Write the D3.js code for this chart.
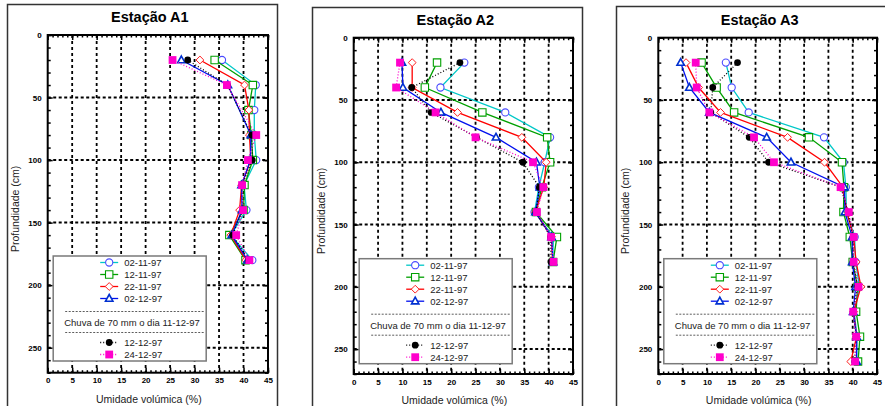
<!DOCTYPE html>
<html>
<head>
<meta charset="utf-8">
<script src="https://cdn.jsdelivr.net/npm/d3@7"></script>
<style>
body { margin: 0; background: #fff; }
text { font-family: "Liberation Sans", Arial, sans-serif; }
</style>
</head>
<body>
<script>
// series names, in drawing order
var seriesLabels = ["02-11-97", "12-11-97", "22-11-97", "02-12-97", "12-12-97", "24-12-97"];
var rainNote = "Chuva de 70 mm o dia 11-12-97";

// depths (cm)
var depthsA12 = [20, 40, 60, 80, 100, 120, 140, 160, 180];
var depthsA3 = [20, 40, 60, 80, 100, 120, 140, 160, 180, 200, 220, 240, 260];

// Estação A1 - umidade volúmica (%)
var a1_021197 = [35.6, 42.5, 42.2, 42.2, 42.6, 40.1, 40.6, 37.4, 41.8];
var a1_121197 = [34.1, 41.9, 41.0, 41.6, 41.9, 40.2, 40.0, 37.1, 40.4];
var a1_221197 = [31.1, 40.2, 41.1, 41.2, 41.5, 39.6, 39.2, 37.4, 40.5];
var a1_021297 = [27.3, 36.8, null, 41.5, 41.4, 39.6, 39.7, 37.6, 40.8];
var a1_121297 = [28.6, 36.7, null, 41.7, 41.8, 39.7, 39.8, 37.8, 41.0];
var a1_241297 = [25.5, 36.6, null, 42.6, 40.9, 39.7, 39.9, 38.5, 41.2];

// Estação A2
var a2_021197 = [22.7, 17.8, 31.1, 40.3, 39.2, 38.0, 37.1, 41.0, 40.8];
var a2_121197 = [17.1, 14.6, 26.4, 39.7, 40.3, 38.6, 37.4, 41.7, 40.9];
var a2_221197 = [12.0, 12.0, 21.3, 34.5, 39.5, 39.0, 37.3, 40.6, 40.8];
var a2_021297 = [9.9, 10.1, 17.9, 29.2, 37.5, 38.2, 37.3, 40.6, 40.9];
var a2_121297 = [21.8, 11.9, 15.9, 25.2, 34.7, 38.1, 37.4, 40.4, 40.5];
var a2_241297 = [9.5, 8.7, 16.8, 25.0, 36.8, 38.9, 37.6, 40.5, 41.0];

// Estação A3
var a3_021197 = [13.9, 15.1, 18.6, 34.1, 38.1, 38.6, 38.7, 40.4, 40.6, 41.4, 40.3, 40.9, 40.8];
var a3_121197 = [8.9, 12.0, 15.6, 31.0, 37.8, 38.2, 38.1, 39.4, 40.0, 41.0, 40.7, 41.5, 41.1];
var a3_221197 = [5.7, 8.3, 12.8, 26.6, 34.2, 38.0, 38.8, 40.2, 40.7, 41.7, 40.2, 40.8, 39.6];
var a3_021297 = [4.6, 6.4, 10.5, 22.3, 27.3, 38.3, 38.4, 39.9, 39.9, 40.6, 40.1, 40.8, 40.8];
var a3_121297 = [16.3, 11.2, 10.8, 18.7, 22.7, 37.6, 39.0, 40.1, 40.1, 41.0, 40.1, 40.7, 40.4];
var a3_241297 = [7.7, 7.9, 10.5, 19.7, 23.8, 37.5, 39.2, 40.2, 40.2, 41.2, 40.1, 40.7, 40.5];

var xTicks = [0, 5, 10, 15, 20, 25, 30, 35, 40, 45];
var yTicks = [0, 50, 100, 150, 200, 250];

var styles = [
  {line: "#00c8c8", stroke: "#4a4aff", fill: "#fff", shape: "circle", dash: null, sw: 1.1},
  {line: "#00a000", stroke: "#00a000", fill: "#fff", shape: "square", dash: null, sw: 1.1},
  {line: "#ff0000", stroke: "#ff2020", fill: "#fff", shape: "diamond", dash: null, sw: 1},
  {line: "#0010ee", stroke: "#0030d0", fill: "#fff", shape: "triangle", dash: null, sw: 1.6},
  {line: "#000", stroke: "#000", fill: "#000", shape: "dot", dash: "1,2", sw: 0},
  {line: "#ff00cc", stroke: "#ff00cc", fill: "#ff00cc", shape: "block", dash: "1,2", sw: 0}
];

var shapes = {
  circle: "M3.6,0A3.6,3.6,0,1,1,-3.6,0A3.6,3.6,0,1,1,3.6,0Z",
  square: "M-3.7,-3.7h7.4v7.4h-7.4Z",
  diamond: "M0,-3.9L3.9,0L0,3.9L-3.9,0Z",
  triangle: "M0,-4L3.7,2.7L-3.7,2.7Z",
  dot: "M3.4,0A3.4,3.4,0,1,1,-3.4,0A3.4,3.4,0,1,1,3.4,0Z",
  block: "M-3.9,-3.9h7.8v7.8h-7.8Z"
};

var panels = [
  {title: "Estação A1", left: 47.7, right: 268, top: 35, bottom: 372.7, frame: [7.5, 4.5, 270],
   depths: depthsA12, values: [a1_021197, a1_121197, a1_221197, a1_021297, a1_121297, a1_241297]},
  {title: "Estação A2", left: 353.7, right: 573, top: 37.7, bottom: 374, frame: [312.5, 7.5, 270],
   depths: depthsA12, values: [a2_021197, a2_121197, a2_221197, a2_021297, a2_121297, a2_241297]},
  {title: "Estação A3", left: 658.3, right: 877, top: 37.7, bottom: 374, frame: [616.5, 6.5, 300],
   depths: depthsA3, values: [a3_021197, a3_121197, a3_221197, a3_021297, a3_121297, a3_241297]}
];

var svg = d3.select("body").append("svg")
  .attr("width", 885).attr("height", 406);

panels.forEach(function(p) {
  var x = d3.scaleLinear().domain([0, 45]).range([p.left, p.right]);
  var y = d3.scaleLinear().domain([0, 270]).range([p.top, p.bottom]);
  var w = p.right - p.left, h = p.bottom - p.top;
  var cx = (p.left + p.right) / 2;

  // outer frame
  svg.append("rect")
    .attr("x", p.frame[0]).attr("y", p.frame[1])
    .attr("width", p.frame[2]).attr("height", 430)
    .attr("fill", "none").attr("stroke", "#333").attr("stroke-width", 1.5);

  svg.append("text")
    .attr("x", cx - 8).attr("y", p.top - 13)
    .attr("text-anchor", "middle")
    .style("font-size", "14.5px").style("font-weight", "bold")
    .text(p.title);

  // grid
  svg.append("g").selectAll("line").data(xTicks.slice(1, -1)).enter().append("line")
    .attr("x1", function(d) { return x(d); }).attr("x2", function(d) { return x(d); })
    .attr("y1", p.top).attr("y2", p.bottom)
    .attr("stroke", "#000").attr("stroke-width", 1.8).attr("stroke-dasharray", "3,3");
  svg.append("g").selectAll("line").data(yTicks.slice(1)).enter().append("line")
    .attr("y1", function(d) { return y(d); }).attr("y2", function(d) { return y(d); })
    .attr("x1", p.left).attr("x2", p.right)
    .attr("stroke", "#000").attr("stroke-width", 2).attr("stroke-dasharray", "3,2.5");

  // ticks on all four sides
  function ticks(axis, tx, ty) {
    var g = svg.append("g").attr("transform", "translate(" + tx + "," + ty + ")").call(axis);
    g.select(".domain").remove();
    g.selectAll(".tick line").attr("stroke", "#000").attr("stroke-width", 1.5);
    return g;
  }
  var minorX = d3.range(0, 46, 1), minorY = d3.range(0, 271, 10);
  ticks(d3.axisBottom(x).tickValues(minorX).tickSize(-2.5).tickFormat(""), 0, p.bottom);
  ticks(d3.axisTop(x).tickValues(minorX).tickSize(-2.5).tickFormat(""), 0, p.top);
  ticks(d3.axisLeft(y).tickValues(minorY).tickSize(-3).tickFormat(""), p.left, 0);
  ticks(d3.axisRight(y).tickValues(minorY).tickSize(-3).tickFormat(""), p.right, 0);
  ticks(d3.axisTop(x).tickValues(xTicks).tickSize(-5).tickFormat(""), 0, p.top);
  ticks(d3.axisRight(y).tickValues(yTicks).tickSize(-5).tickFormat(""), p.right, 0);

  var gx = ticks(d3.axisBottom(x).tickValues(xTicks).tickSize(-5).tickPadding(5), 0, p.bottom);
  var gy = ticks(d3.axisLeft(y).tickValues(yTicks).tickSize(-5).tickPadding(6), p.left, 0);
  [gx, gy].forEach(function(g) {
    g.attr("font-family", null).attr("font-size", null);
    g.selectAll("text").style("font-size", "8px").style("font-weight", "bold").attr("fill", "#000");
  });

  // border
  svg.append("rect")
    .attr("x", p.left).attr("y", p.top).attr("width", w).attr("height", h)
    .attr("fill", "none").attr("stroke", "#000").attr("stroke-width", 2);

  // axis titles
  svg.append("text")
    .attr("x", cx - 9).attr("y", p.bottom + 30)
    .attr("text-anchor", "middle").style("font-size", "10.5px").attr("fill", "#222")
    .text("Umidade volúmica (%)");
  svg.append("text")
    .attr("transform", "translate(" + (p.left - 29) + "," + ((p.top + p.bottom) / 2 + 5) + ") rotate(-90)")
    .attr("text-anchor", "middle").style("font-size", "10.5px").attr("fill", "#222")
    .text("Profundidade (cm)");

  // legend
  var lx = p.left + 5.5, ly = p.top + 221;
  var leg = svg.append("g").attr("transform", "translate(" + lx + "," + ly + ")");
  leg.append("rect").attr("width", 153).attr("height", 105)
    .attr("fill", "#fff").attr("stroke", "#7a7a7a").attr("stroke-width", 1.5);
  var rowY = [6.5, 18.5, 30.5, 42.5, 86.5, 98.5];
  seriesLabels.forEach(function(lab, i) {
    var s = styles[i];
    leg.append("line").attr("x1", 47).attr("x2", 65).attr("y1", rowY[i]).attr("y2", rowY[i])
      .attr("stroke", s.line).attr("stroke-width", 1.3)
      .attr("stroke-dasharray", s.dash);
    leg.append("path").attr("d", shapes[s.shape])
      .attr("transform", "translate(56," + rowY[i] + ")")
      .attr("fill", s.fill).attr("stroke", s.stroke).attr("stroke-width", s.sw);
    leg.append("text").attr("x", 71).attr("y", rowY[i]).attr("dy", "0.35em")
      .style("font-size", "9.5px").attr("fill", "#222").text(lab);
  });
  [55.5, 76.5].forEach(function(yy) {
    leg.append("line").attr("x1", 12).attr("x2", 152).attr("y1", yy).attr("y2", yy)
      .attr("stroke", "#333").attr("stroke-width", 0.8).attr("stroke-dasharray", "2,1.5");
  });
  leg.append("text").attr("x", 11).attr("y", 66.5).attr("dy", "0.35em")
    .style("font-size", "9.5px").attr("fill", "#222").text(rainNote);

  // series
  var line = d3.line().x(function(d) { return x(d.v); }).y(function(d) { return y(d.d); });
  p.values.forEach(function(vals, i) {
    var s = styles[i];
    var pts = p.depths.map(function(d, j) { return {d: d, v: vals[j]}; })
      .filter(function(q) { return q.v != null; });
    var g = svg.append("g");
    g.append("path").datum(pts).attr("d", line)
      .attr("fill", "none").attr("stroke", s.line).attr("stroke-width", 1.3)
      .attr("stroke-dasharray", s.dash);
    g.selectAll("path.m").data(pts).enter().append("path").attr("class", "m")
      .attr("d", shapes[s.shape])
      .attr("transform", function(q) { return "translate(" + x(q.v) + "," + y(q.d) + ")"; })
      .attr("fill", s.fill).attr("stroke", s.stroke).attr("stroke-width", s.sw);
  });
});
</script>
</body>
</html>
